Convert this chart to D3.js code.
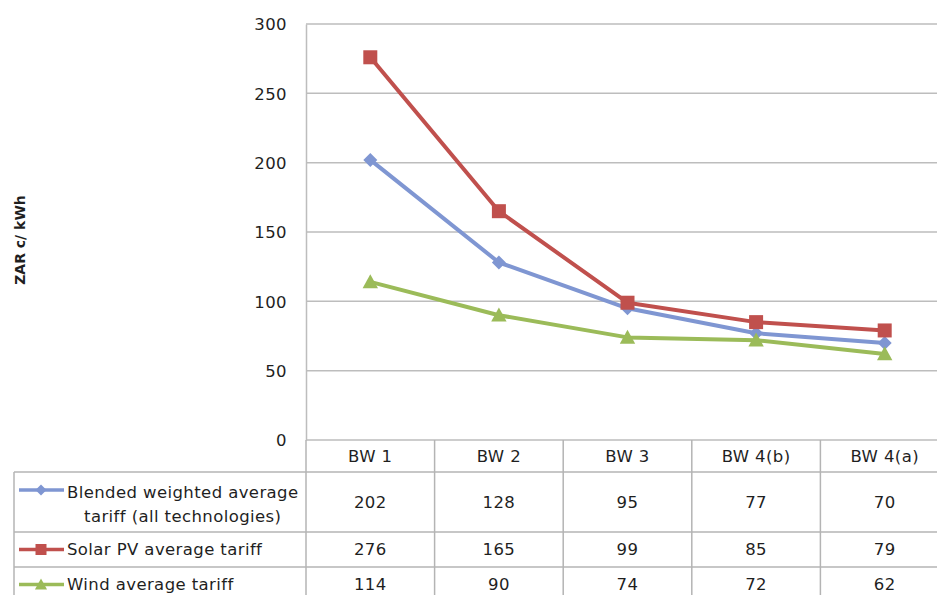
<!DOCTYPE html>
<html>
<head>
<meta charset="utf-8">
<script src="https://cdnjs.cloudflare.com/ajax/libs/d3/7.8.5/d3.min.js"></script>
<style>
  html, body { margin: 0; padding: 0; background: #fff; }
  svg { display: block; }
  text { font-family: "DejaVu Sans", sans-serif; fill: #1f1f1f; }
  .lbl { letter-spacing: 0.4px; }
</style>
</head>
<body>
<svg id="chart" width="937" height="595"></svg>
<script>
const categories = ["BW 1", "BW 2", "BW 3", "BW 4(b)", "BW 4(a)"];
const seriesNames = [
  ["Blended weighted average", "tariff (all technologies)"],
  ["Solar PV average tariff"],
  ["Wind average tariff"]
];
const blendedValues = [202, 128, 95, 77, 70];
const solarValues = [276, 165, 99, 85, 79];
const windValues = [114, 90, 74, 72, 62];
const yTicks = [0, 50, 100, 150, 200, 250, 300];
const yTitle = "ZAR c/ kWh";

const seriesColors = ["#7f96d2", "#c0504d", "#9bbb59"];
const seriesMarkers = ["diamond", "square", "triangle"];
const seriesValues = [blendedValues, solarValues, windValues];

const svg = d3.select("#chart");
const plot = { left: 306, right: 949, top: 24, bottom: 440 };
const tableLeft = 14;
const rowEdges = [440, 472, 532, 567, 602];
const grid = "#bdbdbd";
const fs = 16.5;

const x = d3.scaleBand().domain(categories).range([plot.left, plot.right]).padding(0);
const y = d3.scaleLinear().domain([0, 300]).range([plot.bottom, plot.top]);

// gridlines
svg.append("g").selectAll("line").data(yTicks.filter(d => d > 0)).join("line")
  .attr("x1", plot.left).attr("x2", plot.right)
  .attr("y1", d => y(d)).attr("y2", d => y(d))
  .attr("stroke", grid).attr("stroke-width", 1.5);

// y axis
const yAxis = d3.axisLeft(y).tickValues(yTicks).tickSize(0).tickPadding(19);
const ya = svg.append("g").attr("transform", `translate(${plot.left},0)`).call(yAxis);
ya.select(".domain").attr("stroke", grid).attr("stroke-width", 1.5);
ya.selectAll("text").attr("class", "lbl").style("font-family", "DejaVu Sans, sans-serif")
  .style("font-size", fs + "px").attr("fill", "#1f1f1f").attr("dy", "0.36em");

// y title
svg.append("text")
  .attr("transform", `translate(25,240) rotate(-90)`)
  .attr("text-anchor", "middle")
  .style("font-size", "14px").style("font-weight", "bold")
  .text(yTitle);

// table lines
const tg = svg.append("g").attr("stroke", "#b4b4b4").attr("stroke-width", 1.5);
tg.append("line").attr("x1", plot.left).attr("x2", plot.right)
  .attr("y1", rowEdges[0]).attr("y2", rowEdges[0]).attr("stroke", grid);
rowEdges.slice(1).forEach(r => {
  tg.append("line").attr("x1", tableLeft).attr("x2", plot.right).attr("y1", r).attr("y2", r);
});
const colEdges = categories.map(c => x(c)).concat([plot.right]);
colEdges.forEach(cx => {
  tg.append("line").attr("x1", cx).attr("x2", cx).attr("y1", rowEdges[0]).attr("y2", rowEdges[4]);
});
tg.append("line").attr("x1", tableLeft).attr("x2", tableLeft).attr("y1", rowEdges[1]).attr("y2", rowEdges[4]);

// header labels
svg.append("g").selectAll("text").data(categories).join("text")
  .attr("class", "lbl")
  .attr("x", d => x(d) + x.bandwidth() / 2)
  .attr("y", (rowEdges[0] + rowEdges[1]) / 2)
  .attr("dy", "0.36em").attr("text-anchor", "middle")
  .style("font-size", fs + "px").text(d => d);

// value cells
seriesValues.forEach((vals, i) => {
  const cy = (rowEdges[i + 1] + rowEdges[i + 2]) / 2;
  svg.append("g").selectAll("text").data(vals).join("text")
    .attr("class", "lbl")
    .attr("x", (d, j) => x(categories[j]) + x.bandwidth() / 2)
    .attr("y", cy).attr("dy", "0.36em").attr("text-anchor", "middle")
    .style("font-size", fs + "px").text(d => d);
});

function marker(g, type, color, cx, cy, s) {
  if (type === "diamond") {
    g.append("path").attr("d", `M${cx},${cy - s}L${cx + s},${cy}L${cx},${cy + s}L${cx - s},${cy}Z`).attr("fill", color);
  } else if (type === "square") {
    g.append("rect").attr("x", cx - s).attr("y", cy - s).attr("width", 2 * s).attr("height", 2 * s).attr("fill", color);
  } else {
    g.append("path").attr("d", `M${cx},${cy - s * 1.1}L${cx + s * 1.1},${cy + s * 0.9}L${cx - s * 1.1},${cy + s * 0.9}Z`).attr("fill", color);
  }
}
const markerSize = [7, 7, 7];

const line = d3.line().x((d, j) => x(categories[j]) + x.bandwidth() / 2).y(d => y(d));
seriesValues.forEach((vals, i) => {
  const g = svg.append("g");
  g.append("path").datum(vals).attr("d", line).attr("fill", "none")
    .attr("stroke", seriesColors[i]).attr("stroke-width", 4).attr("stroke-linejoin", "round");
  vals.forEach((v, j) => marker(g, seriesMarkers[i], seriesColors[i], x(categories[j]) + x.bandwidth() / 2, y(v), markerSize[i]));
});

// legend keys and names
seriesNames.forEach((lines, i) => {
  const top = rowEdges[i + 1], bot = rowEdges[i + 2];
  const cy = (top + bot) / 2;
  const g = svg.append("g");
  const ky = lines.length === 2 ? top + 18 : cy;
  g.append("line").attr("x1", 19).attr("x2", 64).attr("y1", ky).attr("y2", ky)
    .attr("stroke", seriesColors[i]).attr("stroke-width", 3.5);
  marker(g, seriesMarkers[i], seriesColors[i], 41, ky, 5.5);
  if (lines.length === 1) {
    g.append("text").attr("class", "lbl").attr("x", 67).attr("y", cy).attr("dy", "0.36em")
      .style("font-size", fs + "px").text(lines[0]);
  } else {
    const t1 = g.append("text").attr("class", "lbl").attr("x", 67).attr("y", top + 20).attr("dy", "0.36em")
      .style("font-size", fs + "px").text(lines[0]);
    const w1 = t1.node().getComputedTextLength();
    g.append("text").attr("class", "lbl").attr("x", 67 + w1 / 2).attr("y", top + 44).attr("dy", "0.36em")
      .attr("text-anchor", "middle").style("font-size", fs + "px").text(lines[1]);
  }
});
</script>
</body>
</html>
